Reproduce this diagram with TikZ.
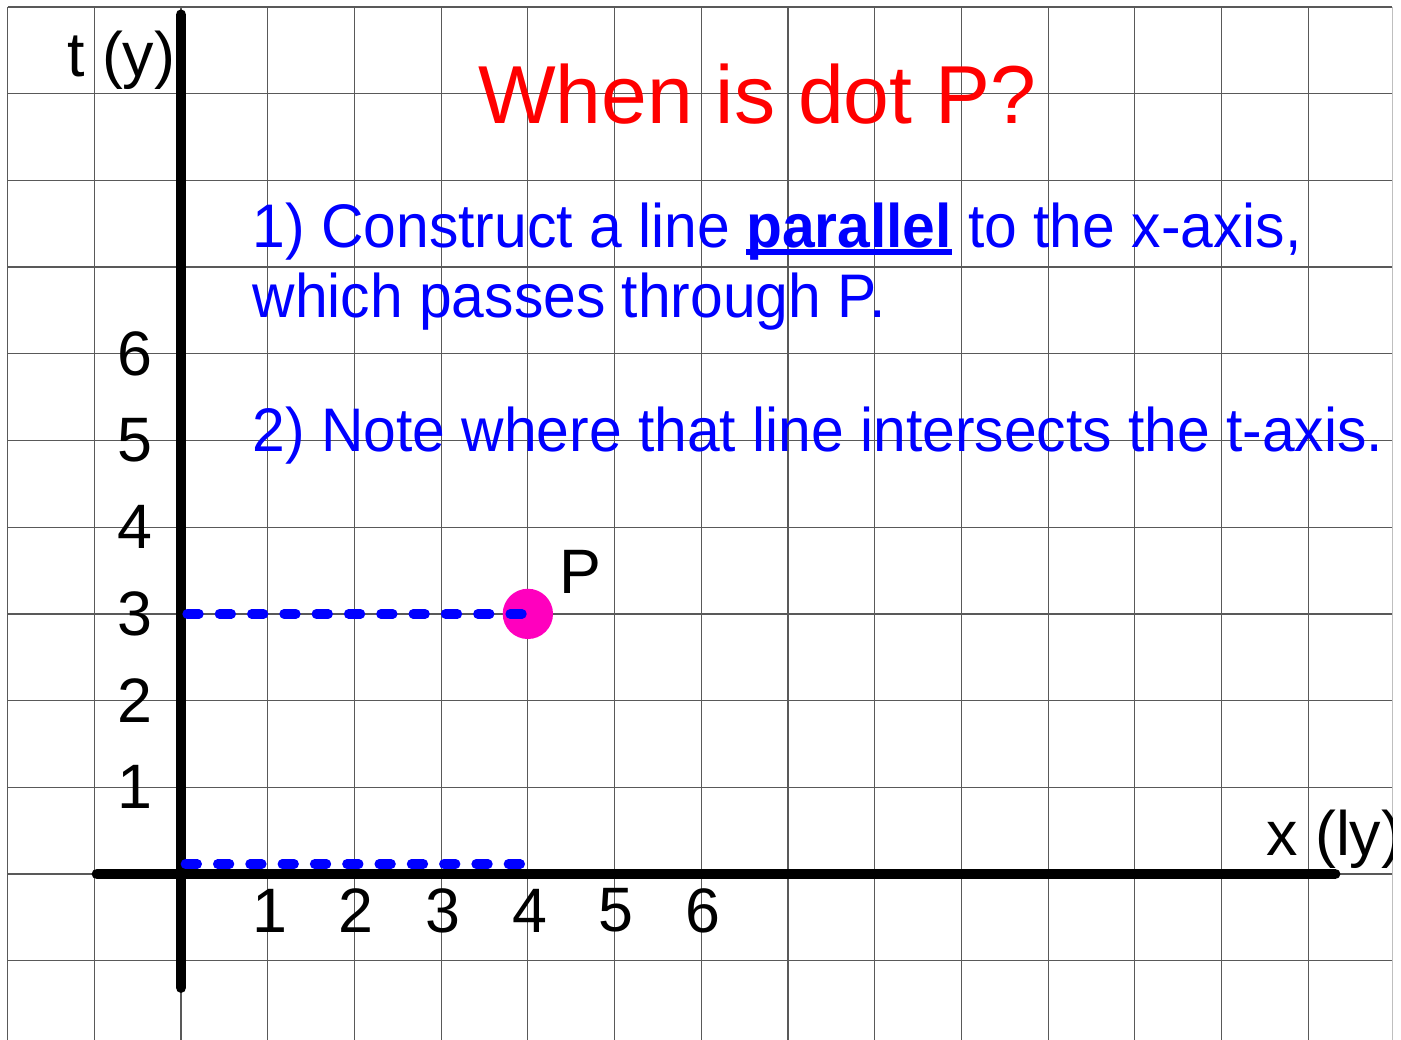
\documentclass[tikz,border=0pt]{standalone}
\usepackage{fontspec}
\setmainfont{Liberation Sans}
\newfontfamily\slidefont[FakeStretch=0.955]{Liberation Sans}
\usepackage{tikz}
\usetikzlibrary{positioning}
\definecolor{dotpink}{RGB}{255,0,190}
\newcommand{\thickul}[1]{\setbox0\hbox{#1}\rlap{\rule[-2.2pt]{\wd0}{1.85pt}}\box0\relax}

\begin{document}
\begin{tikzpicture}[x=1cm,y=1cm,
  gridline/.style={black!65,line width=0.4pt},
  axisline/.style={line width=3.5pt,line cap=round},
  guideline/.style={blue,line width=3.1pt,line cap=round,dash pattern=on 3.9pt off 6.7pt},
  ticklbl/.style={inner sep=0pt,font=\fontsize{20.6}{24}\selectfont},
  bluetext/.style={blue,inner sep=0pt,anchor=base west,font=\slidefont\fontsize{20.2}{24}\selectfont}]
\useasboundingbox (-2.088,-1.903) rectangle (14.07,10.08);
\fill[white] (-2.088,-1.903) rectangle (14.07,10.08);
\draw[gridline] (-2,-1.95) grid (13.97,10);
\draw[black!25,line width=0.4pt] (13.97,-1.95) -- (13.97,10);
% axes
\coordinate (tbot) at (0,-1.31);
\coordinate (ttop) at (0,9.91);
\coordinate (xlft) at (-0.97,0);
\coordinate (xrgt) at (13.31,0);
\draw[axisline] (tbot) -- (ttop);
\draw[axisline] (xlft) -- (xrgt);
\node[ticklbl,anchor=base west] (tname) at (-1.32,9.20) {t (y)};
\node[ticklbl,anchor=base west] (xname) at (12.51,0.21) {x (ly)};
\foreach \k in {1,...,6} {\node[ticklbl] (t\k) at (-0.53,\k) {\k};}
\foreach \k in {1,...,6} {\node[ticklbl] (x\k) at (\k+0.02,-0.42) {\k};}
% point P
\node[circle,fill=dotpink,minimum size=0.58cm,inner sep=0pt] (P) at (4,3) {};
\node[ticklbl,anchor=base west] (Plbl) at (4.36,3.24) {P};
\coordinate (t3) at (0.07,3);
\coordinate (b0) at (0.05,0.115);
\coordinate (b4) at (3.93,0.115);
\draw[guideline] (t3) -- (P.center);
\draw[guideline] (b0) -- (b4);
% texts
\node[red,inner sep=0pt,anchor=base west,font=\fontsize{27}{30}\selectfont] (title) at (3.42,8.65) {When is dot P?};
\node[bluetext] (step1a) at (0.82,7.22) {1) Construct a line \thickul{\textbf{parallel}} to the x-axis,};
\node[bluetext] (step1b) at (0.82,6.42) {which passes through P.};
\node[bluetext] (step2) at (0.82,4.87) {2) Note where that line intersects the t-axis.};
% cut at right edge
\fill[white] (13.975,-1.95) rectangle (14.1,10.1);
\end{tikzpicture}
\end{document}
